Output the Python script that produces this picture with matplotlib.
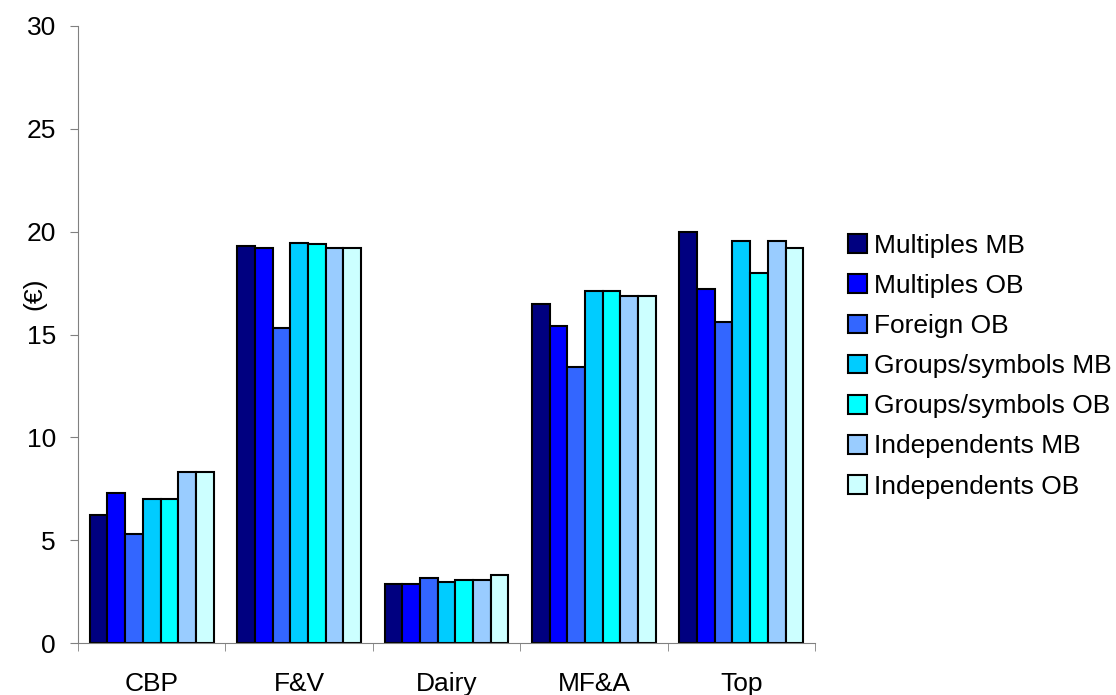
import matplotlib.pyplot as plt
import numpy as np

plt.rcParams['font.family'] = ['Liberation Sans', 'DejaVu Sans']

categories = ['CBP', 'F&V', 'Dairy', 'MF&A', 'Top']
series = ['Multiples MB', 'Multiples OB', 'Foreign OB', 'Groups/symbols MB',
          'Groups/symbols OB', 'Independents MB', 'Independents OB']
multiples_mb = [6.2, 19.3, 2.85, 16.5, 20.0]
multiples_ob = [7.3, 19.2, 2.85, 15.4, 17.2]
foreign_ob = [5.3, 15.3, 3.15, 13.4, 15.6]
groups_mb = [7.0, 19.45, 2.95, 17.1, 19.55]
groups_ob = [7.0, 19.4, 3.05, 17.1, 18.0]
indep_mb = [8.3, 19.2, 3.05, 16.85, 19.55]
indep_ob = [8.3, 19.2, 3.3, 16.85, 19.2]
values = [multiples_mb, multiples_ob, foreign_ob, groups_mb, groups_ob, indep_mb, indep_ob]
colors = ['#000080', '#0000FF', '#3366FF', '#00CCFF', '#00FFFF', '#99CCFF', '#CCFFFF']

fs = 19

fig = plt.figure(figsize=(11.16, 6.95), dpi=100)
ax = fig.add_axes([0.0699, 0.0748, 0.6604, 0.8878])

x = np.arange(len(categories))
w = 0.84 / len(series)
for i, (name, vals, c) in enumerate(zip(series, values, colors)):
    ax.bar(x - 0.42 + w * (i + 0.5), vals, width=w, color=c, edgecolor='black',
           linewidth=1.5, label=name)

ax.set_xlim(-0.5, len(categories) - 0.5)
ax.set_ylim(0, 30)
ax.set_yticks(range(0, 31, 5))
ax.set_xticks(x)
ax.set_xticklabels(categories)
ax.set_xticks(np.arange(-0.5, len(categories)), minor=True)
ax.tick_params(axis='x', which='major', length=0, labelsize=fs, pad=21)
ax.tick_params(axis='x', which='minor', length=6, color='#808080')
ax.tick_params(axis='y', length=6, color='#808080', labelsize=fs, pad=10)
for s in ['top', 'right']:
    ax.spines[s].set_visible(False)
for s in ['left', 'bottom']:
    ax.spines[s].set_color('#808080')
ax.set_ylabel('(€)', fontsize=fs)
ax.yaxis.set_label_coords(-0.043, 0.566)

fig.legend(loc='center left', bbox_to_anchor=(0.748, 0.473), frameon=False,
           fontsize=fs, borderpad=0, handlelength=0.72, handleheight=0.72,
           handletextpad=0.25, labelspacing=0.61)

fig.savefig('out.png')
